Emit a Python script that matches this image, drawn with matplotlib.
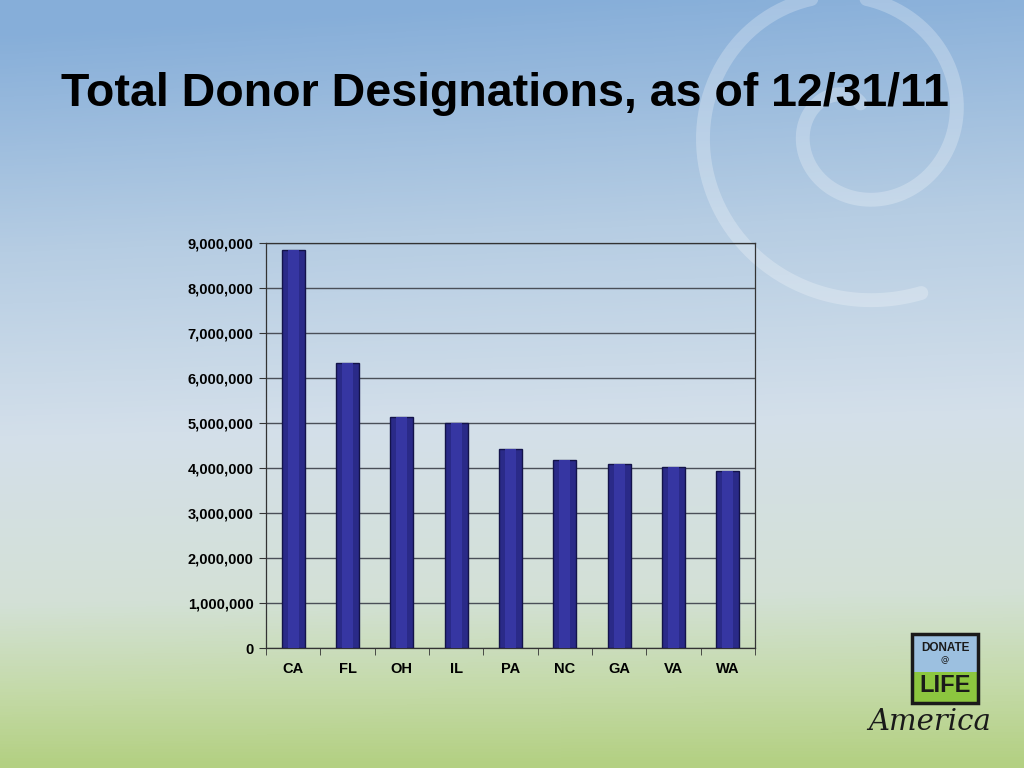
import numpy as np
import matplotlib
matplotlib.use("Agg")
import matplotlib.pyplot as plt
from matplotlib.patches import Rectangle
from matplotlib.colors import LinearSegmentedColormap
from matplotlib.ticker import FuncFormatter, FixedLocator

# data
states = ["CA", "FL", "OH", "IL", "PA", "NC", "GA", "VA", "WA"]
designations = [8840000, 6330000, 5130000, 5000000, 4420000, 4180000, 4090000, 4020000, 3930000]
y_ticks = [0, 1000000, 2000000, 3000000, 4000000, 5000000, 6000000, 7000000, 8000000, 9000000]

title = "Total Donor Designations, as of 12/31/11"
sans = ["Liberation Sans", "DejaVu Sans"]

fig = plt.figure(figsize=(10.24, 7.68), dpi=100)

# background: blue sky fading to green
bg = fig.add_axes([0, 0, 1, 1], zorder=0)
bg_cmap = LinearSegmentedColormap.from_list("sky", [
    (0.00, "#86aed9"),
    (0.30, "#b6cde3"),
    (0.55, "#d3dfea"),
    (0.78, "#d3e1d6"),
    (0.90, "#c4daa8"),
    (1.00, "#b3d082"),
])
grad = np.linspace(0, 1, 256).reshape(-1, 1)
xs = np.linspace(0, 1, 64).reshape(1, -1)
field = np.clip(grad * np.ones_like(xs) + 0.08 * (xs - 0.5) * (1 - grad), 0, 1)
bg.imshow(field, aspect="auto", cmap=bg_cmap, extent=[0, 1, 0, 1], origin="upper")

# white swirl top right
t = np.linspace(0.3, 3.3 * np.pi, 400)
r = 0.02 + 0.021 * t
sx = 0.835 + r * np.cos(t + 1.0) * 0.75
sy = 0.84 + r * np.sin(t + 1.0)
bg.plot(sx, sy, color="white", lw=10, alpha=0.25, solid_capstyle="round")
bg.set_xlim(0, 1)
bg.set_ylim(0, 1)
bg.axis("off")

# main chart
ax = fig.add_axes([0.2598, 0.15625, 0.4775, 0.5273], zorder=2)
ax.patch.set_alpha(0)
x = np.arange(len(states))
ax.bar(x, designations, width=0.42, color="#2a2a88", edgecolor="#13134a", linewidth=1.0, zorder=3)
# lighter core for cylinder look
ax.bar(x, designations, width=0.2, color="#3636a2", linewidth=0, zorder=4)

ax.set_xlim(-0.5, len(states) - 0.5)
ax.set_ylim(0, 9000000)
ax.set_yticks(y_ticks)
ax.yaxis.set_major_formatter(FuncFormatter(lambda v, p: f"{int(v):,}"))
ax.set_xticks(x)
ax.set_xticklabels(states)
ax.xaxis.set_minor_locator(FixedLocator(np.arange(-0.5, len(states), 1.0)))
ax.tick_params(axis="x", which="major", length=0, pad=10)
ax.tick_params(axis="x", which="minor", length=5, color="#333333")
ax.tick_params(axis="y", length=5, color="#333333", pad=4)
for lab in ax.get_xticklabels() + ax.get_yticklabels():
    lab.set_family(sans)
    lab.set_fontweight("bold")
    lab.set_fontsize(10.5)
    lab.set_color("black")

ax.grid(axis="y", color="#4a4f58", linewidth=1.0, zorder=1)
ax.set_axisbelow(True)
for sp in ax.spines.values():
    sp.set_color("#333333")
    sp.set_linewidth(0.9)

# title
fig.text(0.493, 0.877, title, ha="center", va="center", fontsize=33.5,
         fontweight="bold", family=sans, color="black")

# Donate Life America logo
fig.patches.append(Rectangle((912 / 1024, 1 - 672 / 768), 66 / 1024, 38 / 768,
                             transform=fig.transFigure, facecolor="#9cc0e0",
                             edgecolor="none", zorder=5))
fig.patches.append(Rectangle((912 / 1024, 1 - 703 / 768), 66 / 1024, 31 / 768,
                             transform=fig.transFigure, facecolor="#8cc63f",
                             edgecolor="none", zorder=5))
fig.patches.append(Rectangle((912 / 1024, 1 - 703 / 768), 66 / 1024, 69 / 768,
                             transform=fig.transFigure, facecolor="none",
                             edgecolor="#1a1a1a", linewidth=2.5, zorder=6))
fig.text(945 / 1024, 1 - 648 / 768, "DONATE", ha="center", va="center",
         fontsize=8.5, fontweight="bold", family=sans, color="#1a1a1a", zorder=7)
fig.text(945 / 1024, 1 - 660 / 768, "@", ha="center", va="center",
         fontsize=6, color="#1a1a1a", zorder=7)
fig.text(945 / 1024, 1 - 685 / 768, "LIFE", ha="center", va="center",
         fontsize=17, fontweight="bold", family=sans, color="#1a1a1a", zorder=7)
fig.text(930 / 1024, 1 - 722 / 768, "America", ha="center", va="center",
         fontsize=21, style="italic", family=["DejaVu Serif"], color="#1a1a1a", zorder=7)

fig.savefig("out.png", dpi=100)
